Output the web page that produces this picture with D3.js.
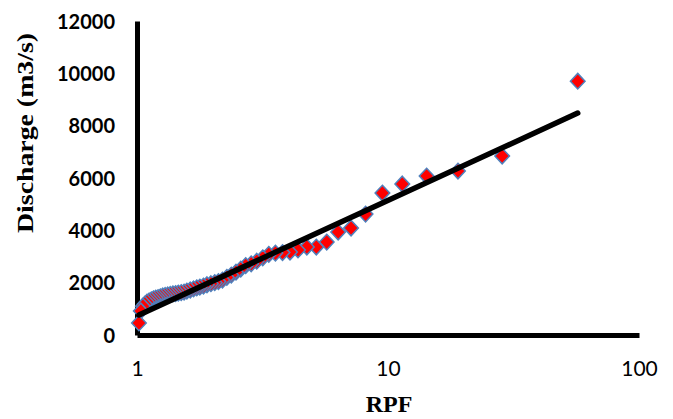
<!DOCTYPE html>
<meta charset="utf-8">
<html>
<style>
  body { margin: 0; background: #fff; }
  .axis path { stroke: #000; stroke-width: 5px; }
  .axis .tick line { display: none; }
  .axis--y text { font-family: Lato, sans-serif; font-weight: 700; font-size: 20px; fill: #000; }
  .axis--x text { font-family: Lato, sans-serif; font-size: 21px; fill: #000; }
  .title { font-family: "Liberation Serif", serif; font-weight: 700; fill: #000; }
</style>
<body>
<svg width="673" height="419"></svg>
<script src="https://d3js.org/d3.v7.min.js"></script>
<script>
// return period factor (RPF) and observed discharge (m3/s), ranked
var rpf = [57, 28.5, 19, 14.25, 11.4, 9.5, 8.14, 7.125, 6.33, 5.7,
  5.18, 4.75, 4.38, 4.07, 3.8, 3.56, 3.35, 3.17, 3.0, 2.85,
  2.71, 2.59, 2.48, 2.375, 2.28, 2.19, 2.11, 2.04, 1.97, 1.9,
  1.84, 1.78, 1.73, 1.68, 1.63, 1.58, 1.54, 1.5, 1.46, 1.425,
  1.39, 1.357, 1.326, 1.295, 1.267, 1.239, 1.213, 1.1875, 1.163, 1.14,
  1.118, 1.096, 1.075, 1.056, 1.036, 1.018];
var discharge = [9700, 6840, 6265, 6075, 5770, 5425, 4620, 4090, 3935, 3550,
  3360, 3360, 3250, 3170, 3150, 3130, 3080, 2950, 2820, 2720,
  2650, 2520, 2400, 2290, 2200, 2100, 2040, 2000, 1960, 1920,
  1870, 1830, 1800, 1760, 1720, 1680, 1640, 1620, 1600, 1580,
  1570, 1550, 1530, 1510, 1490, 1460, 1430, 1410, 1380, 1340,
  1300, 1260, 1180, 1100, 920, 460];

// logarithmic trendline: Q = a*ln(RPF) + b
var trendA = 1917, trendB = 730;

var xTicks = [1, 10, 100];
var yTicks = [0, 2000, 4000, 6000, 8000, 10000, 12000];

var svg = d3.select("svg");

var x = d3.scaleLog().domain([1, 100]).range([137, 639]);
var y = d3.scaleLinear().domain([0, 12000]).range([335, 21]);

var data = rpf.map(function(r, i) { return { rpf: r, q: discharge[i] }; });
var trendX = d3.extent(rpf);

// Y axis
svg.append("g")
    .attr("class", "axis axis--y")
    .attr("transform", "translate(137,0)")
    .call(d3.axisLeft(y).tickValues(yTicks).tickFormat(d3.format("d")).tickSize(0).tickSizeOuter(0).tickPadding(22))
  .selectAll("text")
    .attr("dy", "0.35em");

// X axis
svg.append("g")
    .attr("class", "axis axis--x")
    .attr("transform", "translate(0,335)")
    .call(d3.axisBottom(x).tickValues(xTicks).tickFormat(d3.format("d")).tickSize(0).tickSizeOuter(0).tickPadding(26));

// points (diamonds)
var diamond = "M0,-7.8L7.3,0L0,7.8L-7.3,0Z";
svg.append("g")
  .selectAll("path")
  .data(data)
  .enter().append("path")
    .attr("d", diamond)
    .attr("transform", function(d) { return "translate(" + x(d.rpf) + "," + y(d.q) + ")"; })
    .attr("fill", "#ff0000")
    .attr("stroke", "#4f81bd")
    .attr("stroke-width", 1.5);

// trendline
var line = d3.line()
    .x(function(d) { return x(d); })
    .y(function(d) { return y(trendA * Math.log(d) + trendB); });

svg.append("path")
    .datum(trendX)
    .attr("fill", "none")
    .attr("stroke", "#000")
    .attr("stroke-width", 5.5)
    .attr("stroke-linecap", "round")
    .attr("d", line);

// axis titles
svg.append("text")
    .attr("class", "title")
    .attr("transform", "translate(33,133) rotate(-90)")
    .attr("text-anchor", "middle")
    .attr("font-size", 23)
    .attr("textLength", 200)
    .attr("lengthAdjust", "spacingAndGlyphs")
    .text("Discharge (m3/s)");

svg.append("text")
    .attr("class", "title")
    .attr("x", 389)
    .attr("y", 412)
    .attr("text-anchor", "middle")
    .attr("font-size", 24)
    .text("RPF");
</script>
</body>
</html>
